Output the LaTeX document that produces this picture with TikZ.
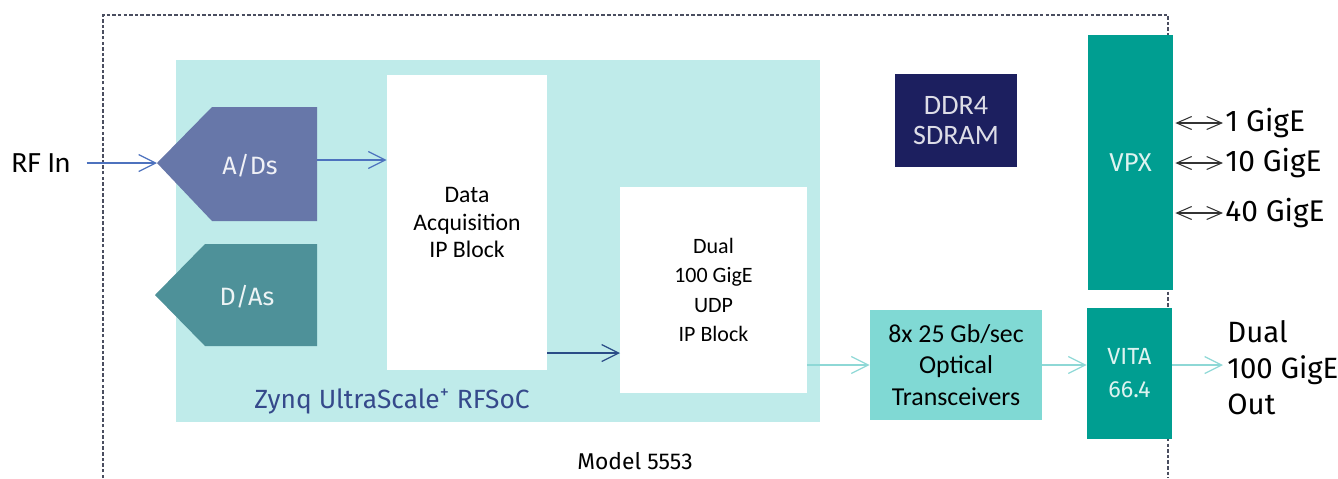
\documentclass[tikz,border=0pt]{standalone}
\usepackage{fontspec}
\setmainfont{Carlito}
\newfontfamily\barfont{Fira Sans}
\usetikzlibrary{arrows.meta}

\definecolor{socfill}{HTML}{BFEBEA}
\definecolor{adcfill}{HTML}{6777A9}
\definecolor{dacfill}{HTML}{4E9199}
\definecolor{ddrfill}{HTML}{1C1F5F}
\definecolor{vpxfill}{HTML}{009E91}
\definecolor{optfill}{HTML}{80D9D4}
\definecolor{socblue}{HTML}{35498B}
\definecolor{lnblue}{HTML}{4D72BE}
\definecolor{lndark}{HTML}{2A4C87}
\definecolor{lnlight}{HTML}{8ED8D6}
\definecolor{frameclr}{HTML}{4A4E60}
\definecolor{lighttxt}{HTML}{DDF3F0}

\tikzset{
  block/.style={inner sep=0pt, align=center},
  sig/.style={line width=0.7pt, -{Straight Barb[length=3.4mm,width=3.4mm]}},
  link/.style={line width=0.6pt, black!80, {Straight Barb[length=3mm,width=2.6mm]}-{Straight Barb[length=3mm,width=2.6mm]}},
}

\begin{document}
\begin{tikzpicture}[x=0.02cm,y=-0.02cm]
\useasboundingbox (0,0) rectangle (1338,478);
% chassis outline
\draw[frameclr, line width=0.6pt, dash pattern=on 2pt off 1.2pt] (103,478) -- (103,15) -- (1168,15) -- (1168,478);
\node[font=\barfont\fontsize{13}{15}\selectfont] (model) at (635,461) {Model 5553};

% RFSoC
\node[block, fill=socfill, minimum width=12.88cm, minimum height=7.24cm] (soc) at (498,241) {};
\node[text=socblue, font=\barfont\fontsize{15}{18}\selectfont] (socname) at (392,401) {Zynq UltraScale\textsuperscript{+} RFSoC};

% converters
\fill[adcfill] (157,163) coordinate (adcin) -- (212,107) -- (317,107) -- (317,221) -- (212,221) -- cycle;
\node[text=white!90!adcfill, font=\barfont\fontsize{14.3}{16}\selectfont] (adc) at (250,166) {A/Ds};
\fill[dacfill] (155,295) -- (205,244) -- (317,244) -- (317,346) -- (205,346) -- cycle;
\node[text=white!90!dacfill, font=\barfont\fontsize{14.3}{16}\selectfont] (dac) at (247,297) {D/As};
\coordinate (adcout) at (317,160);

% IP blocks
\node[block, fill=white, minimum width=3.2cm, minimum height=5.9cm, font=\fontsize{13.5}{15.8}\selectfont] (daq) at (467,222.5) {Data\\Acquisition\\IP Block};
\node[block, fill=white, minimum width=3.74cm, minimum height=4.12cm, font=\fontsize{12.5}{16.8}\selectfont] (udp) at (713.5,290) {Dual\\100 GigE\\UDP\\IP Block};
\coordinate (udpin) at (620,353);

% memory, optics, backplane
\node[block, fill=ddrfill, text=white!85!ddrfill, minimum width=2.44cm, minimum height=1.86cm, font=\fontsize{16}{17}\selectfont] (ddr) at (956,120.5) {DDR4\\SDRAM};
\node[block, fill=optfill, minimum width=3.44cm, minimum height=2.2cm, font=\fontsize{14.7}{18}\selectfont] (opt) at (956,365) {8x 25 Gb/sec\\Optical\\Transceivers};
\node[block, fill=vpxfill, text=lighttxt, minimum width=1.7cm, minimum height=5.1cm, font=\barfont\fontsize{14.7}{17}\selectfont] (vpx) at (1130.5,162.5) {VPX};
\node[block, fill=vpxfill, text=lighttxt, minimum width=1.7cm, minimum height=2.62cm, font=\barfont\fontsize{13.3}{19}\selectfont] (vita) at (1129.5,373) {VITA\\66.4};

% outside labels
\node[font=\fontsize{16.7}{19}\selectfont] (rfin) at (41,163) {RF In};
\node[anchor=west, align=left, inner sep=0pt, font=\barfont\fontsize{16.7}{20.5}\selectfont] (dualout) at (1227,368) {Dual\\100 GigE\\Out};

% signal paths
\draw[sig, lnblue] ([xshift=0.2cm]rfin.east) -- (adcin);
\draw[sig, lnblue] (adcout) -- (daq.west |- adcout);
\draw[sig, lndark] (daq.east |- udpin) -- (udpin);
\draw[sig, lnlight] (udp.east |- opt) -- (opt.west);
\draw[sig, lnlight] (opt.east) -- (vita.west |- opt.east);
\draw[sig, lnlight] (vita.east |- opt.east) -- ([xshift=-0.08cm]dualout.west |- opt.east);

% ethernet ports
\foreach \y/\t/\n in {123/1 GigE/one, 163/10 GigE/ten, 213/40 GigE/forty}{
  \node[anchor=west, inner sep=0pt, font=\barfont\fontsize{17}{19}\selectfont] (ge\n) at (1225,\y) {\t};
  \draw[link] ([xshift=0.04cm]vpx.east |- ge\n) -- ([xshift=-0.04cm]ge\n.west);
}
\end{tikzpicture}
\end{document}
